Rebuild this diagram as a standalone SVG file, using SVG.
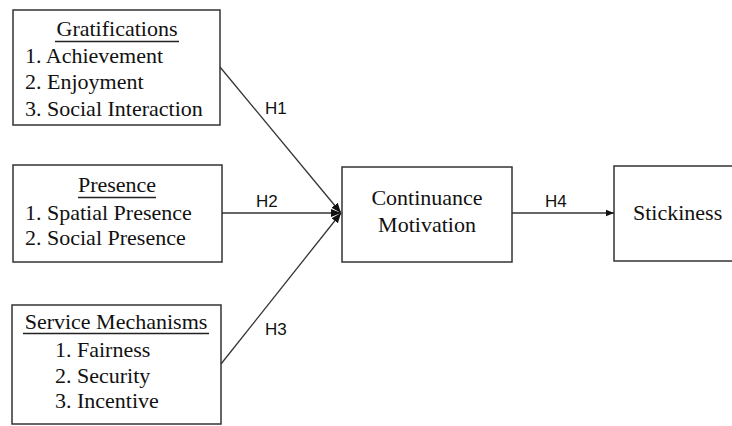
<svg xmlns="http://www.w3.org/2000/svg" width="732" height="426" viewBox="0 0 732 426">
<defs>
<style>
.box{fill:#fff;stroke:#333;stroke-width:1.5}
.ln{stroke:#333;stroke-width:1.3;fill:none}
.ul{stroke:#222;stroke-width:1.3}
</style>
<marker id="ah" viewBox="0 0 10 10" refX="10" refY="5" markerWidth="8" markerHeight="8" markerUnits="userSpaceOnUse" orient="auto">
<path d="M0,1 L10,5 L0,9 Z" fill="#111"/>
</marker>
<marker id="ahb" viewBox="0 0 10 10" refX="10" refY="5" markerWidth="10" markerHeight="10" markerUnits="userSpaceOnUse" orient="auto">
<path d="M0,1 L10,5 L0,9 Z" fill="#111"/>
</marker>
</defs>
<rect width="732" height="426" fill="#fff"/>
<g font-family="'Liberation Serif', 'Times New Roman', 'DejaVu Serif', serif" font-size="22" fill="#111">
<g id="gratifications">
<rect class="box" x="13" y="10" width="207" height="115"/>
<text x="117" y="36" text-anchor="middle">Gratifications</text>
<line class="ul" x1="55" y1="41.5" x2="179" y2="41.5"/>
<text x="25" y="63">1. Achievement</text>
<text x="25" y="89">2. Enjoyment</text>
<text x="25" y="116">3. Social Interaction</text>
</g>
<g id="presence">
<rect class="box" x="13" y="165" width="209" height="97"/>
<text x="117" y="192" text-anchor="middle">Presence</text>
<line class="ul" x1="78" y1="197.5" x2="156" y2="197.5"/>
<text x="25" y="220">1. Spatial Presence</text>
<text x="25" y="245">2. Social Presence</text>
</g>
<g id="service">
<rect class="box" x="12" y="305" width="209" height="119"/>
<text x="116" y="329" text-anchor="middle">Service Mechanisms</text>
<line class="ul" x1="23" y1="333.5" x2="209" y2="333.5"/>
<text x="55" y="357">1. Fairness</text>
<text x="55" y="383">2. Security</text>
<text x="55" y="408">3. Incentive</text>
</g>
<g id="continuance">
<rect class="box" x="342" y="167" width="170" height="95"/>
<text x="427" y="205" text-anchor="middle">Continuance</text>
<text x="427" y="232" text-anchor="middle">Motivation</text>
</g>
<g id="stickiness">
<rect class="box" x="614" y="166" width="130" height="95"/>
<text x="633" y="220">Stickiness</text>
</g>
</g>
<g id="connectors">
<line class="ln" x1="220" y1="67" x2="341" y2="213" marker-end="url(#ahb)"/>
<line class="ln" x1="222" y1="213" x2="341" y2="213" marker-end="url(#ahb)"/>
<line class="ln" x1="221" y1="364" x2="341" y2="213" marker-end="url(#ahb)"/>
<line class="ln" x1="512" y1="213" x2="614" y2="213" marker-end="url(#ah)"/>
<g font-family="'Liberation Sans', Arial, sans-serif" font-size="17" fill="#111">
<text x="265" y="114">H1</text>
<text x="256" y="207">H2</text>
<text x="265" y="335">H3</text>
<text x="545" y="207">H4</text>
</g>
</g>
</svg>
